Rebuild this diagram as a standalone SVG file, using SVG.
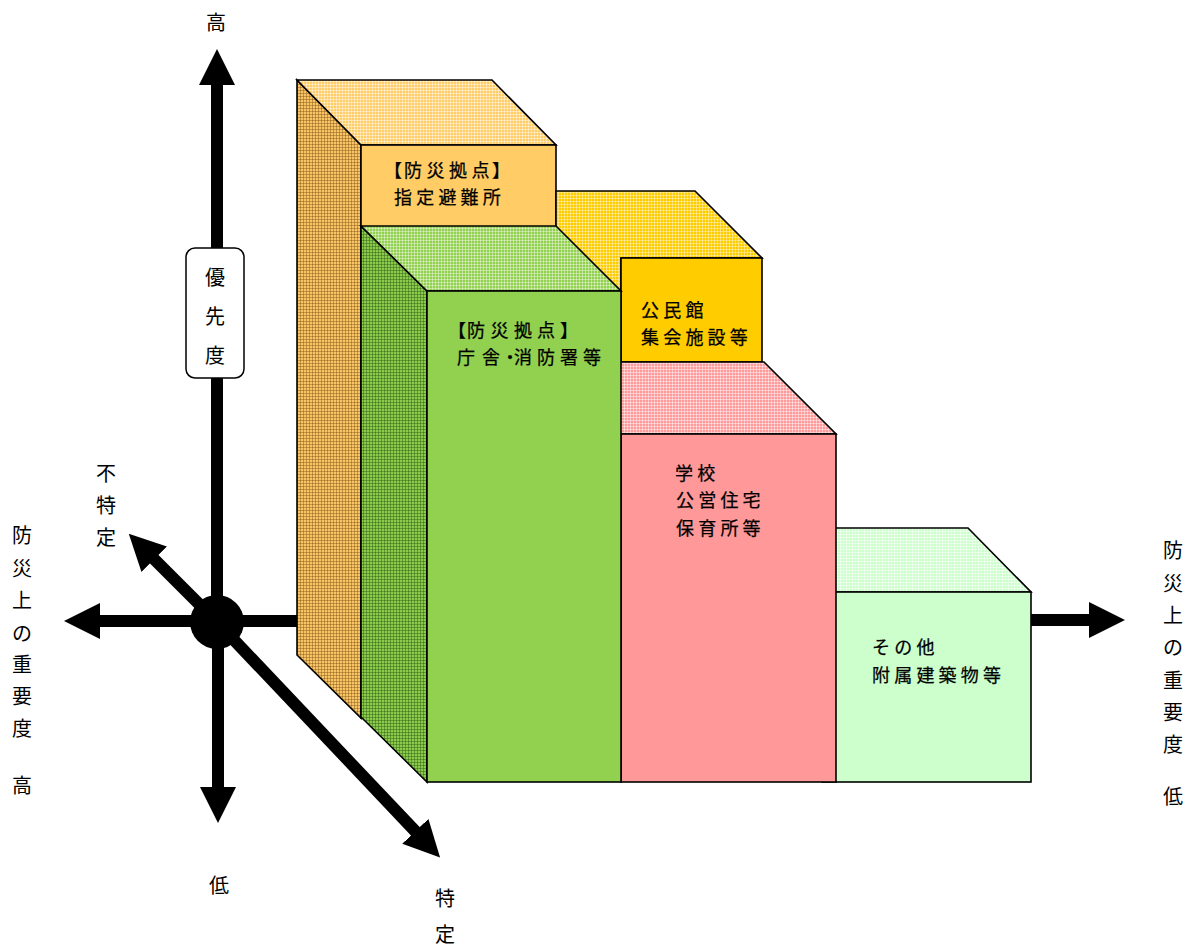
<svg xmlns="http://www.w3.org/2000/svg" width="1194" height="946" viewBox="0 0 1194 946">
<style>
.face{stroke:#000;stroke-width:1.6;stroke-linejoin:miter}
.t{font-family:"Noto Sans CJK JP","Noto Sans CJK SC",sans-serif;font-size:18px;letter-spacing:4.2px;fill:#000;stroke:#000;stroke-width:0.25}
.ax{font-family:"Noto Sans CJK JP","Noto Sans CJK SC",sans-serif;font-size:20px;fill:#000;text-anchor:middle}
.shaft{stroke:#000;stroke-width:12;fill:none;marker-end:url(#ah)}
.bare{stroke:#000;stroke-width:12;fill:none}
</style>
<defs>
<marker id="ah" viewBox="0 0 36 36" markerUnits="userSpaceOnUse" markerWidth="36" markerHeight="36" refX="1" refY="18" orient="auto">
<path d="M0,0 L36,18 L0,36 Z" fill="#000"/>
</marker>
<pattern id="pOrSide" width="3" height="3" patternUnits="userSpaceOnUse"><rect width="3" height="3" fill="#F8C466"/><path d="M0,0.5H3M0.5,0V3" stroke="#7A4E10" stroke-opacity="0.42" stroke-width="1"/></pattern>
<pattern id="pOrTop" width="3" height="3" patternUnits="userSpaceOnUse"><rect width="3" height="3" fill="#FFCC66"/><path d="M0,0.5H3M0.5,0V3" stroke="#FFFFFF" stroke-opacity="0.45" stroke-width="1"/></pattern>
<pattern id="pGrSide" width="3" height="3" patternUnits="userSpaceOnUse"><rect width="3" height="3" fill="#8ACB4C"/><path d="M0,0.5H3M0.5,0V3" stroke="#2F5A12" stroke-opacity="0.45" stroke-width="1"/></pattern>
<pattern id="pGrTop" width="3" height="3" patternUnits="userSpaceOnUse"><rect width="3" height="3" fill="#92D050"/><path d="M0,0.5H3M0.5,0V3" stroke="#FFFFFF" stroke-opacity="0.4" stroke-width="1"/></pattern>
<pattern id="pYeTop" width="3" height="3" patternUnits="userSpaceOnUse"><rect width="3" height="3" fill="#FFCC00"/><path d="M0,0.5H3M0.5,0V3" stroke="#FFFFFF" stroke-opacity="0.4" stroke-width="1"/></pattern>
<pattern id="pPkTop" width="3" height="3" patternUnits="userSpaceOnUse"><rect width="3" height="3" fill="#FF9999"/><path d="M0,0.5H3M0.5,0V3" stroke="#FFFFFF" stroke-opacity="0.45" stroke-width="1"/></pattern>
<pattern id="pLgTop" width="3" height="3" patternUnits="userSpaceOnUse"><rect width="3" height="3" fill="#CCFFCC"/><path d="M0,0.5H3M0.5,0V3" stroke="#FFFFFF" stroke-opacity="0.5" stroke-width="1"/></pattern>
</defs>

<g id="connectors">
<line class="shaft" x1="217" y1="600" x2="217" y2="84"/>
<line class="shaft" x1="218" y1="622" x2="218" y2="788"/>
<line class="shaft" x1="217" y1="621" x2="99" y2="621"/>
<line class="bare" x1="217" y1="621" x2="298" y2="621"/>
<line class="shaft" x1="1030" y1="620" x2="1090" y2="620"/>
<line class="shaft" x1="217" y1="622" x2="153.5" y2="558.5"/>
<line class="shaft" x1="217" y1="622" x2="416" y2="832"/>
<circle cx="217" cy="622" r="27" fill="#000"/>
</g>

<g id="axis-priority">
<text class="ax" x="216" y="29.5">高</text>
<rect x="186" y="248" width="58" height="130" rx="9" fill="#fff" stroke="#000" stroke-width="1.5"/>
<text class="ax" x="215" y="284.5">優</text>
<text class="ax" x="215" y="323.5">先</text>
<text class="ax" x="215" y="362.5">度</text>
<text class="ax" x="219" y="892.5">低</text>
</g>

<g id="axis-specific">
<text class="ax" x="106" y="480.5">不</text>
<text class="ax" x="106" y="512.5">特</text>
<text class="ax" x="106" y="544.5">定</text>
<text class="ax" x="445" y="905.5">特</text>
<text class="ax" x="445" y="941.5">定</text>
</g>

<g id="axis-importance-left">
<text class="ax" x="22" y="543">防</text>
<text class="ax" x="22" y="575.5">災</text>
<text class="ax" x="22" y="608">上</text>
<text class="ax" x="22" y="640.5">の</text>
<text class="ax" x="22" y="672">重</text>
<text class="ax" x="22" y="704">要</text>
<text class="ax" x="22" y="736">度</text>
<text class="ax" x="22" y="792.5">高</text>
</g>

<g id="axis-importance-right">
<text class="ax" x="1173" y="558">防</text>
<text class="ax" x="1173" y="590.5">災</text>
<text class="ax" x="1173" y="623">上</text>
<text class="ax" x="1173" y="655">の</text>
<text class="ax" x="1173" y="687.5">重</text>
<text class="ax" x="1173" y="720">要</text>
<text class="ax" x="1173" y="752">度</text>
<text class="ax" x="1173" y="804">低</text>
</g>

<g id="box-evacuation">
<polygon class="face" points="297,80 361,145 361,718 297,655" fill="url(#pOrSide)"/>
<polygon class="face" points="297,80 492,80 556,145 361,145" fill="url(#pOrTop)"/>
<rect class="face" x="361" y="145" width="195" height="573" fill="#FFCC66"/>
<text class="t" x="384 404 426.5 449 471.5 492" y="176.5">【防災拠点】</text>
<text class="t" x="394" y="203.5">指定避難所</text>
</g>

<g id="box-hall">
<polygon class="face" points="556,191 695,191 762,258 621,258 621,291 556,291" fill="url(#pYeTop)"/>
<rect class="face" x="621" y="258" width="141" height="104" fill="#FFCC00"/>
<text class="t" x="641" y="316.5">公民館</text>
<text class="t" x="641" y="343.5">集会施設等</text>
</g>

<g id="box-other">
<polygon class="face" points="771,528 968,528 1031,592 836,592" fill="url(#pLgTop)"/>
<rect class="face" x="822" y="592" width="209" height="190" fill="#CCFFCC"/>
<text class="t" x="872" y="653.5">その他</text>
<text class="t" x="872" y="681.5">附属建築物等</text>
</g>

<g id="box-school">
<polygon class="face" points="549,362 764,362 836,434 621,434" fill="url(#pPkTop)"/>
<rect class="face" x="621" y="434" width="215" height="348" fill="#FF9999"/>
<text class="t" x="675" y="479.5">学校</text>
<text class="t" x="676" y="506.5">公営住宅</text>
<text class="t" x="676" y="534.5">保育所等</text>
</g>

<g id="box-office">
<polygon class="face" points="361,226 427,291 427,782 361,717" fill="url(#pGrSide)"/>
<polygon class="face" points="361,226 556,226 621,291 427,291" fill="url(#pGrTop)"/>
<rect class="face" x="427" y="291" width="194" height="491" fill="#92D050"/>
<text class="t" x="448 467 490.5 514 537 560" y="336.5">【防災拠点】</text>
<text class="t" x="457 482 501 514 537 560 583" y="363.5">庁舎・消防署等</text>
</g>
</svg>
